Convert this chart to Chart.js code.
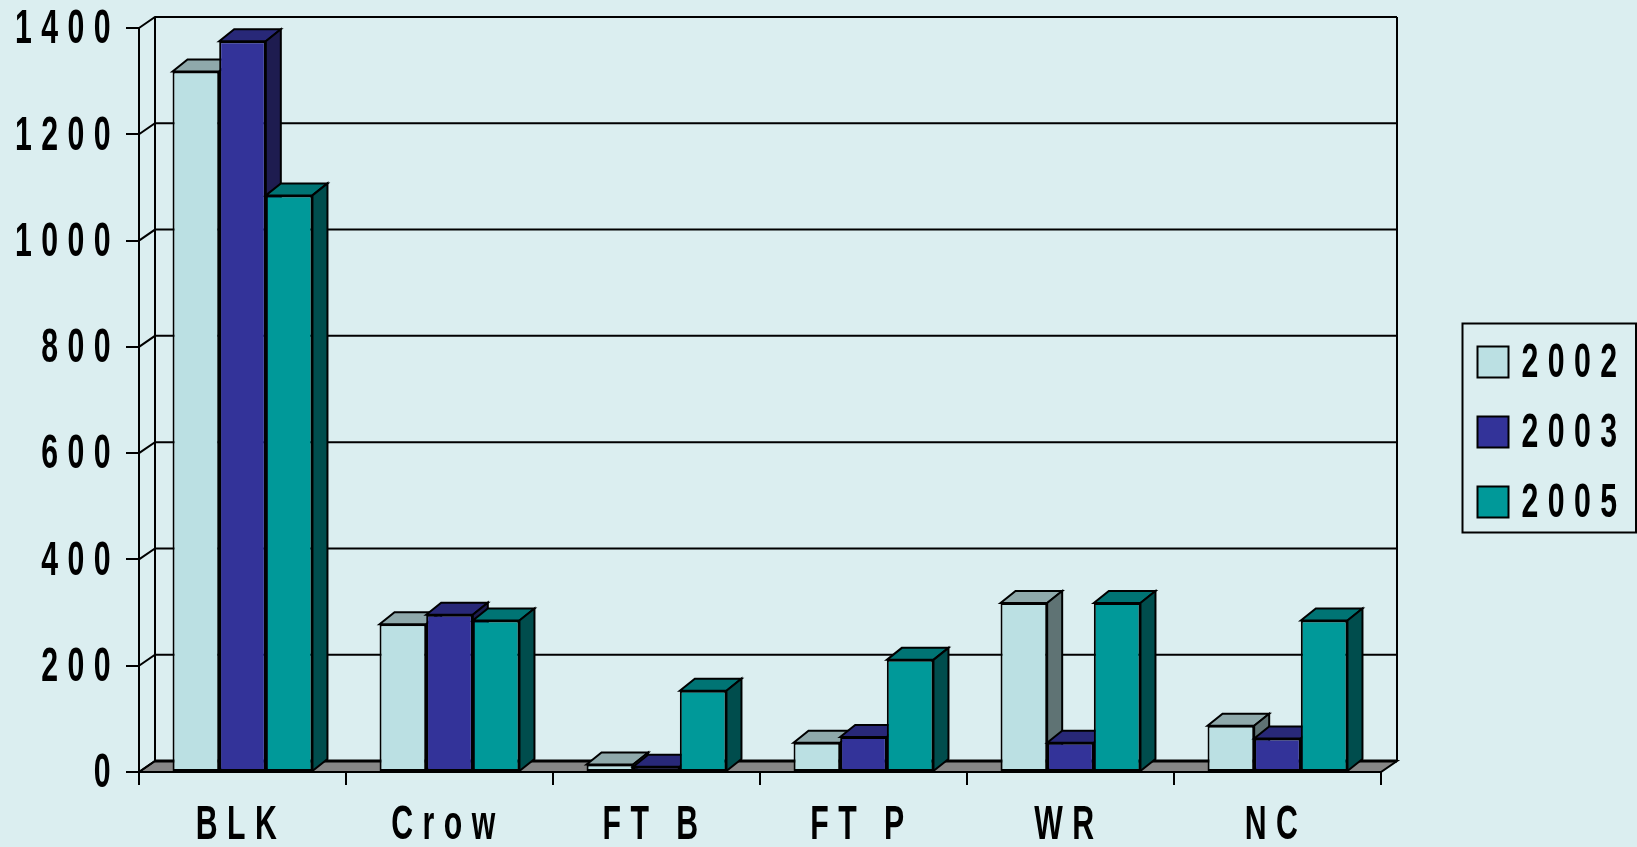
<!DOCTYPE html>
<html><head><meta charset="utf-8">
<style>html,body{margin:0;padding:0;background:#DBEEF0;overflow:hidden}canvas{display:block}</style>
<script src="https://cdn.jsdelivr.net/npm/chart.js@4"></script>
</head><body><canvas id="c" width="1637" height="847"></canvas>
<script>
const categories = ['BLK','Crow','FT B','FT P','WR','NC'];
const seriesNames = ['2002','2003','2005'];
const values2002 = [1318,278,14,55,318,87];
const values2003 = [1375,296,10,66,55,63];
const values2005 = [1085,285,153,211,318,285];
const frontColors = ['#BBE0E3','#333399','#009999'];
const topColors = ['#8FA9AB','#282878','#007474'];
const sideColors = ['#5F7374','#1E1C50','#004D4D'];
const yMax = 1400, yStep = 200;

const BG = '#DBEEF0', INK = '#000', FLOOR = '#868686';
const WALL = {dx:16, dy:11}, BAR = {dx:15, dy:12};
const FONT = {family:'"Liberation Sans", Arial, sans-serif', size:48, weight:'bold'};
const SQUEEZE = 0.63, SPACING = '15px', LEGEND_SHIFT = -11, TEXT_DROP = 2;
const LW = 2;

function poly(ctx, pts, fill){
  ctx.beginPath();
  pts.forEach((p,i)=> i ? ctx.lineTo(p[0],p[1]) : ctx.moveTo(p[0],p[1]));
  ctx.closePath();
  if (fill){ ctx.fillStyle = fill; ctx.fill(); }
  ctx.stroke();
}

const scene = {
  id:'scene3d',
  afterInit(chart){
    const ctx = chart.ctx, orig = ctx.fillText;
    ctx.fillText = function(t,x,y){
      this.save();
      this.translate(this.textAlign === 'left' ? x + LEGEND_SHIFT : x, y + TEXT_DROP);
      this.scale(SQUEEZE,1);
      orig.call(this,t,0,0);
      this.restore();
    };
    const fit = chart.legend.fit;
    chart.legend.fit = function(){ fit.call(this); this.width = 256; };
  },
  afterLayout(chart){
    const l = chart.legend;
    l.left = 1455.5; l.top = 316; l.right = 1637; l.bottom = 847;
  },
  beforeDraw(chart){ chart.ctx.letterSpacing = SPACING; },
  beforeDatasetsDraw(chart){
    const ctx = chart.ctx, a = chart.chartArea, y = chart.scales.y;
    const {dx,dy} = WALL;
    ctx.save();
    ctx.strokeStyle = INK; ctx.lineWidth = LW; ctx.lineJoin = 'miter';
    // floor
    poly(ctx, [[a.left,a.bottom],[a.left+dx,a.bottom-dy],[a.right+dx,a.bottom-dy],[a.right,a.bottom]], FLOOR);
    // back wall gridlines and side-wall diagonals
    y.ticks.forEach(t=>{
      const py = y.getPixelForValue(t.value);
      ctx.beginPath();
      ctx.moveTo(a.left,py); ctx.lineTo(a.left+dx,py-dy); ctx.lineTo(a.right+dx,py-dy);
      ctx.stroke();
    });
    ctx.beginPath();
    ctx.moveTo(a.left+dx,a.top-dy); ctx.lineTo(a.left+dx,a.bottom-dy);
    ctx.moveTo(a.right+dx,a.top-dy); ctx.lineTo(a.right+dx,a.bottom-dy);
    ctx.stroke();
    // floor's heavier back edge
    ctx.lineWidth = 3;
    ctx.beginPath(); ctx.moveTo(a.left+dx,a.bottom-dy); ctx.lineTo(a.right+dx,a.bottom-dy); ctx.stroke();
    ctx.lineWidth = LW;
    // bars, painted left to right so nearer faces overlap
    chart.data.datasets.forEach((ds,i)=>{
      chart.getDatasetMeta(i).data.forEach(el=>{
        const x0 = el.x-el.width/2, x1 = el.x+el.width/2, top = el.y, base = el.base;
        poly(ctx, [[x0,top],[x0+BAR.dx,top-BAR.dy],[x1+BAR.dx,top-BAR.dy],[x1,top]], topColors[i]);
        poly(ctx, [[x1,top],[x1+BAR.dx,top-BAR.dy],[x1+BAR.dx,base-BAR.dy],[x1,base]], sideColors[i]);
        el.draw(ctx);
      });
    });
    ctx.restore();
  },
  beforeDatasetDraw(){ return false; },
  afterDraw(chart){
    const ctx = chart.ctx;
    ctx.save();
    ctx.strokeStyle = INK; ctx.lineWidth = LW;
    ctx.strokeRect(1462.5,323.5,173.5,209);
    ctx.restore();
  }
};

new Chart(document.getElementById('c'),{
  type:'bar',
  data:{
    labels:categories,
    datasets:[values2002,values2003,values2005].map((v,i)=>({
      label:seriesNames[i],
      data:v,
      backgroundColor:frontColors[i],
      borderColor:INK,
      borderWidth:2,
      borderSkipped:false,
      categoryPercentage:0.676,
      barPercentage:1
    }))
  },
  plugins:[scene],
  options:{
    responsive:false,
    devicePixelRatio:1,
    animation:false,
    layout:{padding:{left:0,right:0,top:28,bottom:0}},
    plugins:{
      title:{display:false},
      tooltip:{enabled:false},
      legend:{
        position:'right',
        align:'start',
        labels:{boxWidth:31,boxHeight:31,padding:22,color:INK,font:FONT}
      }
    },
    scales:{
      x:{
        afterFit(s){ s.height = 75; s.paddingLeft = 0; s.paddingRight = 0; },
        grid:{display:true,drawOnChartArea:false,drawTicks:true,tickLength:13,color:INK,lineWidth:LW},
        border:{display:true,color:INK,width:LW},
        ticks:{color:INK,font:FONT,padding:10,labelOffset:-1.5,autoSkip:false,maxRotation:0,minRotation:0}
      },
      y:{
        min:0,max:yMax,
        afterFit(s){ s.width = 139; s.paddingTop = 0; s.paddingBottom = 0; },
        grid:{display:true,drawOnChartArea:false,drawTicks:true,tickLength:13,color:INK,lineWidth:LW},
        border:{display:true,color:INK,width:LW},
        ticks:{stepSize:yStep,color:INK,font:FONT,padding:6,callback:v=>String(v)}
      }
    }
  }
});
</script></body></html>
